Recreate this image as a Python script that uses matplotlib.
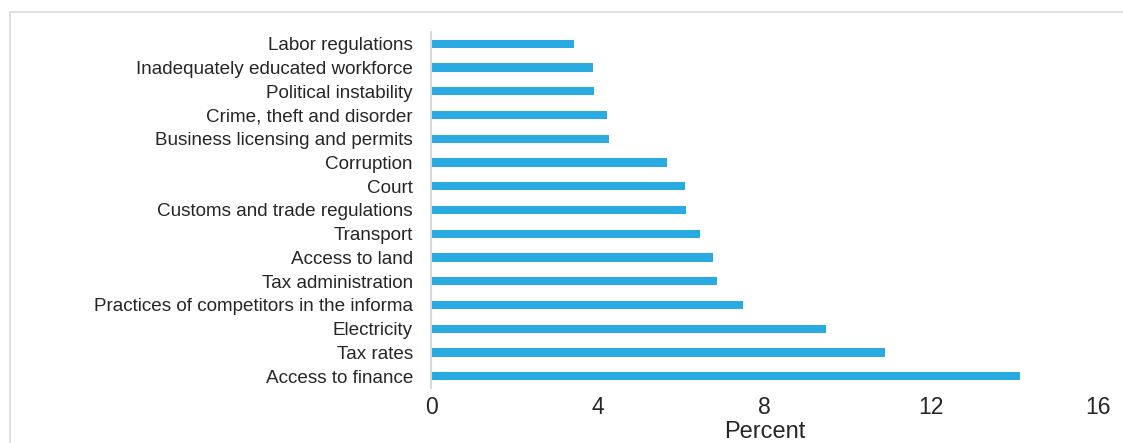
import matplotlib

matplotlib.use("Agg")
import matplotlib.pyplot as plt
from matplotlib.patches import Rectangle

# 上から下への表示順（barh は下から描くので逆順で渡す）
categories = [
    "Labor regulations",
    "Inadequately educated workforce",
    "Political instability",
    "Crime, theft and disorder",
    "Business licensing and permits",
    "Corruption",
    "Court",
    "Customs and trade regulations",
    "Transport",
    "Access to land",
    "Tax administration",
    "Practices of competitors in the informa",
    "Electricity",
    "Tax rates",
    "Access to finance",
]
percent = [3.44, 3.89, 3.92, 4.23, 4.27, 5.66, 6.10, 6.12,
           6.46, 6.76, 6.86, 7.48, 9.47, 10.88, 14.14]
x_ticks = [0, 4, 8, 12, 16]

BAR_COLOR = "#29ABE2"
TEXT_COLOR = "#262626"
LINE_COLOR = "#D9D9D9"

plt.rcParams["font.family"] = ["Liberation Sans", "DejaVu Sans"]

fig = plt.figure(figsize=(11.23, 4.43), dpi=100)
W, H = 1123, 443

# 外枠（右と下ははみ出す）
fig.patches.append(Rectangle((10 / W, -0.1), 1.2, 1 - 12 / H + 0.1,
                             transform=fig.transFigure, fill=False,
                             edgecolor=LINE_COLOR, linewidth=1.2))

ax = fig.add_axes([431 / W, 1 - 388 / H, (1098 - 431) / W, (388 - 32) / H])

y = list(range(len(categories)))[::-1]
ax.barh(y, percent, height=0.35, color=BAR_COLOR)

ax.set_xlim(0, 16)
ax.set_ylim(-0.5, len(categories) - 0.5)
ax.set_xticks(x_ticks)
ax.set_xticklabels([str(t) for t in x_ticks])
ax.set_yticks(y)
ax.set_yticklabels(categories)

ax.tick_params(axis="y", length=0, pad=13, labelsize=13.6, labelcolor=TEXT_COLOR)
ax.tick_params(axis="x", length=0, pad=6, labelsize=16.5, labelcolor=TEXT_COLOR)

for side in ("top", "right", "bottom"):
    ax.spines[side].set_visible(False)
ax.spines["left"].set_color(LINE_COLOR)
ax.spines["left"].set_linewidth(1.5)

ax.set_xlabel("Percent", fontsize=17, color=TEXT_COLOR)
ax.xaxis.set_label_coords(0.5, -0.140)
ax.xaxis.label.set_verticalalignment("baseline")

fig.savefig("out.png", dpi=100)
plt.close(fig)
